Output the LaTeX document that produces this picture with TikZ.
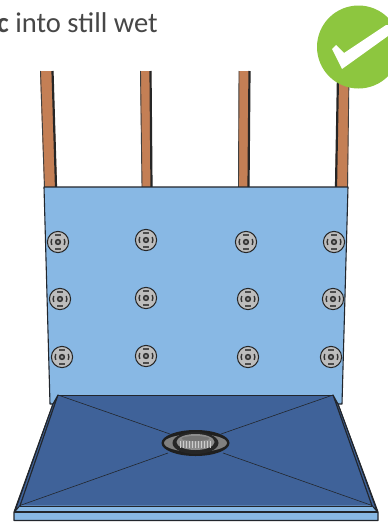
\documentclass[tikz,border=0pt]{standalone}
\usepackage{fontspec}
\setmainfont{Carlito}
\usepackage{xcolor}
\usetikzlibrary{positioning}
\definecolor{studbrown}{HTML}{C47F55}
\definecolor{panelblue}{HTML}{88B8E4}
\definecolor{traytop}{HTML}{3F6299}
\definecolor{outline}{HTML}{22262C}
\definecolor{checkgreen}{HTML}{8DC63F}
\definecolor{bolt}{HTML}{BDBDBD}
\begin{document}
\begin{tikzpicture}[
    x=1pt,
    y=-1pt,
    stud/.style={
        fill=studbrown,
        draw=none
    },
    stud_edge/.style={
        line width=2.2pt,
        draw=black!85
    },
    stud_side/.style={
        line width=0.9pt,
        draw=black!75
    },
    sheet/.style={
        fill=panelblue,
        draw=outline,
        line width=1.1pt,
        line join=round
    },
    seam/.style={
        draw=outline,
        line width=0.6pt
    },
    intro_text/.style={
        anchor=base west,
        inner sep=0pt,
        font=\fontsize{28.6}{32}\selectfont,
        text=black!72
    },
    washer/.pic={
        \fill[bolt] (0,0) circle (10.6);
        \draw[black!85, line width=1pt] (0,0) circle (10.6);
        \draw[black!80, line width=1.4pt] (-6.2,-3) arc[start angle=205, end angle=155, radius=7];
        \draw[black!80, line width=1.4pt] (6.2,-3) arc[start angle=-25, end angle=25, radius=7];
        \draw[black!70, line width=1.4pt] (-3,-7) -- (3,-7);
        \draw[black!70, line width=1.4pt] (-3,7) -- (3,7);
        \fill[black!80] (0,0) circle (3.2);
        \fill[black!40] (0,0) circle (1.6);
    }
]
    \path[clip] (0,0) rectangle (388,522);
    \fill[white] (0,0) rectangle (388,522);

    % ====== text at the top ======
    \node[intro_text] (intro) at (-3.3,32) {\textbf{c} into still wet};
    \node[intro_text] (intro_prev) at (29,-12) {y};

    % ====== studs behind the panel ======
    \fill[stud] (40,71) -- (53,71) -- (57,187) -- (44,187) -- cycle;
    \draw[stud_edge] (52.5,71) -- (56,187);
    \draw[stud_side] (40.5,71) -- (44.5,187);
    \fill[stud] (140,71) -- (151,71) -- (152,187) -- (142,187) -- cycle;
    \draw[stud_edge] (150.5,71) -- (151.5,187);
    \draw[stud_side] (140.5,71) -- (142,187);
    \fill[stud] (239,71) -- (250,71) -- (249,187) -- (238,187) -- cycle;
    \draw[stud_edge] (249.5,71) -- (248.5,187);
    \draw[stud_side] (239,71) -- (238.5,187);
    \fill[stud] (338,75) -- (349,75) -- (348,187) -- (335,187) -- cycle;
    \draw[stud_edge] (338,75) -- (336,187);
    \draw[stud_side] (349,75) -- (347.5,187);

    % ====== back panel ======
    \path[sheet] (44,187) -- (348,187) -- (342,404) -- (50,404) -- cycle;

    % washers, row by row
    \foreach \px/\py in {58/242, 146/240, 246/242, 334/242,
                         60/299, 146/298, 248/299, 333/299,
                         62/357, 146/356, 248/357, 331/357}
        \pic at (\px,\py) {washer};

    % ====== shower tray ======
    \path[sheet] (53,404) -- (338,404) -- (378,512) -- (378,520.5) -- (14,520.5) -- (14,512) -- cycle;
    % side rims
    \draw[outline, fill=traytop, line width=1.1pt, line join=round] (53,404) -- (58,395) -- (20,506) -- (15,511) -- cycle;
    \draw[outline, fill=traytop, line width=1.1pt, line join=round] (338,404) -- (333,395) -- (372,506) -- (377,511) -- cycle;
    \fill[traytop] (58,395.5) -- (333,395.5) -- (372,505.5) -- (20,505.5) -- cycle;
    \draw[outline, line width=1pt] (58,395) -- (333,395);
    \draw[outline, line width=1pt] (58,395) -- (20,506);
    \draw[outline, line width=1pt] (333,395) -- (372,506);
    \fill[panelblue] (20,506.5) -- (372,506.5) -- (375,510.5) -- (17,510.5) -- cycle;
    \draw[outline, line width=0.9pt] (20,506) -- (372,506);
    \draw[outline, line width=1.2pt] (14,512) -- (378,512);

    % diagonals to the drain
    \draw[seam] (58,395) -- (170,434);
    \draw[seam] (333,395) -- (221,434);
    \draw[seam] (20,505.5) -- (168,453);
    \draw[seam] (372,505.5) -- (223,453);

    % ====== drain ======
    \fill[black!88] (195.5,443) ellipse (34 and 13);
    \fill[black!50] (195.5,443) ellipse (31.5 and 9);
    \fill[black!85] (195.5,443) ellipse (23 and 11);
    \fill[black!45] (195.5,442) ellipse (19 and 8);
    \foreach \dx in {-15,-12,...,15}
        \draw[white!80!black, line width=0.8pt] (195.5+\dx,441) -- (195.5+\dx,448);
    \fill[black!55] (195.5,438.5) ellipse (14 and 2.5);

    % ====== tick badge ======
    \fill[checkgreen] (358.5,47) circle (41.5);
    \fill[white] (332,49) -- (336,45) -- (344,53) -- (386,25) -- (388,25) -- (388,36) -- (342,69) -- cycle;

\end{tikzpicture}
\end{document}
